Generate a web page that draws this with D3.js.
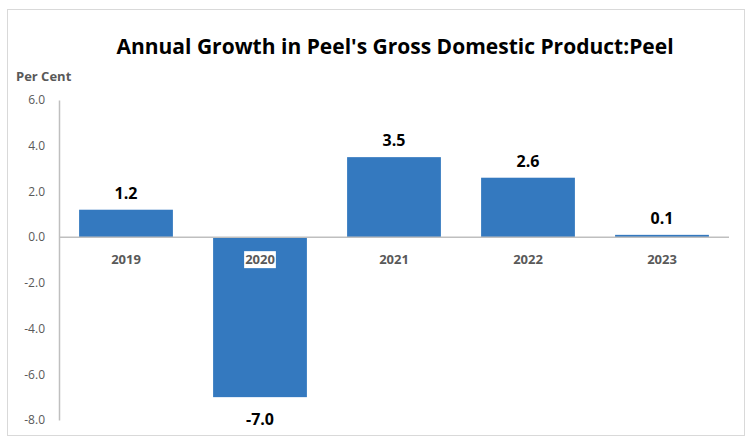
<!DOCTYPE html>
<html>
<head>
<meta charset="utf-8">
<script src="https://cdn.jsdelivr.net/npm/d3@7"></script>
<style>
  html, body { margin: 0; padding: 0; background: #fff; }
  svg { display: block; font-family: "Open Sans", "Noto Sans", sans-serif; }
</style>
</head>
<body>
<svg id="chart" width="746" height="437"></svg>
<script>
// Annual GDP growth, Peel (per cent)
const years = ["2019", "2020", "2021", "2022", "2023"];
const growth = [1.2, -7.0, 3.5, 2.6, 0.1];
const yTicks = [6, 4, 2, 0, -2, -4, -6, -8];

const svg = d3.select("#chart");
const W = 746, H = 437;
const plot = { left: 59, right: 729, top: 100, bottom: 420 };
const fmt = d => d.toFixed(1);   // plain hyphen for negatives

// chart frame
svg.append("rect")
  .attr("x", 7.5).attr("y", 9.5)
  .attr("width", W - 9).attr("height", H - 11)
  .attr("fill", "#fff").attr("stroke", "#d9d9d9").attr("stroke-width", 1);

const x = d3.scaleBand().domain(years).range([plot.left, plot.right]).paddingInner(0.3).paddingOuter(0.15);
const y = d3.scaleLinear().domain([-8, 6]).range([plot.bottom, plot.top]);

// title
svg.append("text")
  .attr("x", 395).attr("y", 54)
  .attr("text-anchor", "middle")
  .attr("font-size", 21).attr("font-weight", "bold").attr("fill", "#000")
  .text("Annual Growth in Peel's Gross Domestic Product:Peel");

svg.append("text")
  .attr("x", 16).attr("y", 81)
  .attr("font-size", 13).attr("font-weight", "bold").attr("fill", "#595959")
  .text("Per Cent");

// y axis
const yAxis = d3.axisLeft(y).tickValues(yTicks).tickFormat(fmt).tickSize(0).tickPadding(14);
const gy = svg.append("g").attr("transform", `translate(${plot.left},0)`).call(yAxis);
gy.select(".domain").attr("stroke", "#bfbfbf").attr("stroke-width", 1.5);
gy.selectAll("text").attr("font-size", 12).attr("fill", "#595959").attr("font-family", "'Open Sans', sans-serif");

// bars
svg.append("g").selectAll("rect")
  .data(growth)
  .join("rect")
  .attr("x", (d, i) => x(years[i]))
  .attr("width", x.bandwidth())
  .attr("y", d => y(Math.max(0, d)))
  .attr("height", d => Math.abs(y(d) - y(0)))
  .attr("fill", "#3479bf");

// zero line
svg.append("line")
  .attr("x1", plot.left).attr("x2", plot.right)
  .attr("y1", y(0)).attr("y2", y(0))
  .attr("stroke", "#bfbfbf").attr("stroke-width", 1.5);

// category labels below zero line
const catG = svg.append("g");
years.forEach((yr, i) => {
  const cx = x(yr) + x.bandwidth() / 2;
  const t = catG.append("text")
    .attr("x", cx).attr("y", y(0) + 27)
    .attr("text-anchor", "middle")
    .attr("font-size", 13).attr("font-weight", "bold").attr("fill", "#595959")
    .text(yr);
  if (growth[i] < 0) {
    const bb = t.node().getBBox();
    catG.insert("rect", () => t.node())
      .attr("x", bb.x - 1).attr("y", bb.y + 1)
      .attr("width", bb.width + 2).attr("height", bb.height - 1)
      .attr("fill", "#fff");
  }
});

// value labels
svg.append("g").selectAll("text")
  .data(growth)
  .join("text")
  .attr("x", (d, i) => x(years[i]) + x.bandwidth() / 2)
  .attr("y", d => d >= 0 ? y(d) - 11 : y(d) + 28)
  .attr("text-anchor", "middle")
  .attr("font-size", 16).attr("font-weight", "bold").attr("fill", "#000")
  .text(fmt);
</script>
</body>
</html>
